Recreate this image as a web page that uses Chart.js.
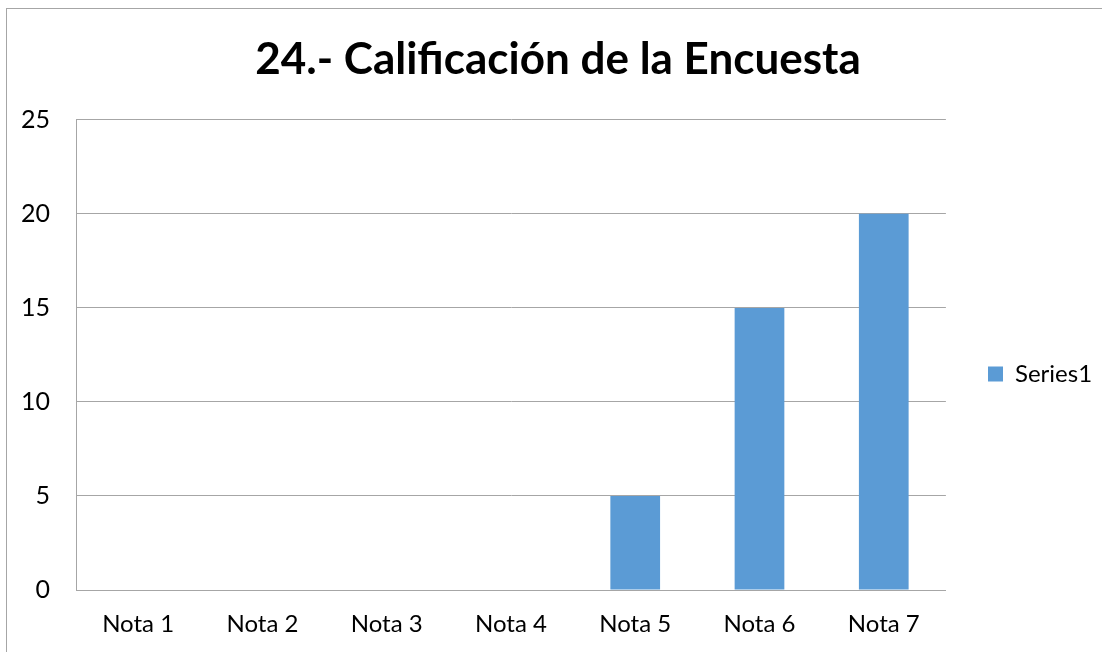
<!DOCTYPE html>
<html>
<head>
<meta charset="utf-8">
<script src="https://cdn.jsdelivr.net/npm/chart.js@4.4.1/dist/chart.umd.min.js"></script>
<style>
    html, body { margin: 0; padding: 0; background: #fff; overflow: hidden; }
    #frame {
        position: absolute; left: 6px; top: 8px; width: 1200px; height: 700px;
        border-top: 1px solid #a6a6a6; border-left: 1px solid #a6a6a6;
    }
    #wrap { position: absolute; left: 0; top: 0; width: 1102px; height: 652px; }
</style>
</head>
<body>
<div id="frame"></div>
<div id="wrap"><canvas id="surveyChart"></canvas></div>
<script>
// ===== DATA =====
const categories = ['Nota 1', 'Nota 2', 'Nota 3', 'Nota 4', 'Nota 5', 'Nota 6', 'Nota 7'];
const seriesValues = [0, 0, 0, 0, 5, 15, 20];
const yTicks = [0, 5, 10, 15, 20, 25];

const gridColor = '#a6a6a6';
const fontFamily = 'Lato, "Open Sans", sans-serif';

// nudge the legend to where the original sits
const legendNudge = {
    id: 'legendNudge',
    afterLayout(chart) {
        const l = chart.legend;
        if (!l) return;
        const dx = 988 - (l.left + l.options.labels.padding);
        l.left += dx; l.right += dx;
        l.top += 48; l.bottom += 48;
    }
};

document.addEventListener('DOMContentLoaded', function() {
    const ctx = document.getElementById('surveyChart');

    new Chart(ctx, {
        type: 'bar',
        data: {
            labels: categories,
            datasets: [{
                label: 'Series1',
                data: seriesValues,
                backgroundColor: '#5b9bd5',
                borderWidth: 0,
                categoryPercentage: 1,
                barPercentage: 0.4
            }]
        },
        options: {
            responsive: true,
            maintainAspectRatio: false,
            animation: false,
            layout: { padding: { left: 14, right: 0, top: 0, bottom: 0 } },
            plugins: {
                title: {
                    display: true,
                    text: '24.- Calificación de la Encuesta',
                    color: '#000',
                    font: { family: fontFamily, size: 44, weight: 'bold' },
                    padding: { top: 33, bottom: 34 }
                },
                legend: {
                    display: true,
                    position: 'right',
                    labels: {
                        boxWidth: 15,
                        boxHeight: 15,
                        padding: 42,
                        color: '#000',
                        font: { family: fontFamily, size: 24 }
                    }
                },
                tooltip: { enabled: false }
            },
            scales: {
                x: {
                    grid: { display: false, drawTicks: false },
                    border: { display: true, color: gridColor, width: 1 },
                    ticks: {
                        color: '#000',
                        padding: 20,
                        maxRotation: 0,
                        font: { family: fontFamily, size: 24 }
                    },
                    afterFit: function(scale) { scale.height = 62; }
                },
                y: {
                    min: 0,
                    max: 25,
                    afterBuildTicks: function(scale) {
                        scale.ticks = yTicks.map(v => ({ value: v }));
                    },
                    grid: { color: gridColor, lineWidth: 1, drawTicks: false },
                    border: { display: true, color: gridColor, width: 1 },
                    ticks: {
                        color: '#000',
                        padding: 26,
                        font: { family: fontFamily, size: 25 }
                    },
                    afterFit: function(scale) { scale.width = 62; }
                }
            }
        },
        plugins: [legendNudge]
    });
});
</script>
</body>
</html>
